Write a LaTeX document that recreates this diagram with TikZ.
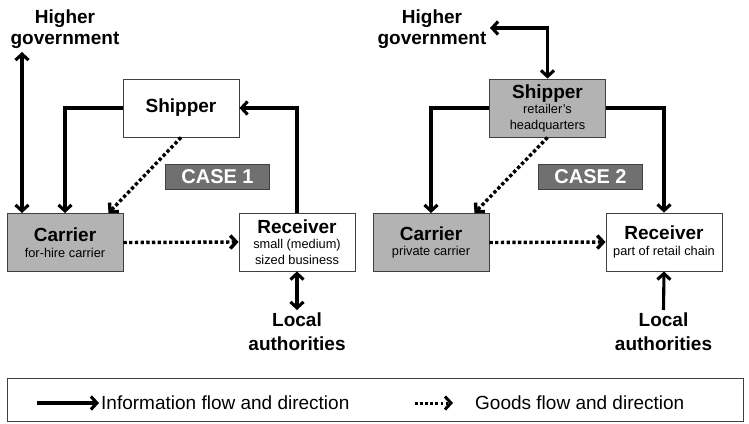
\documentclass[tikz,border=0pt]{standalone}
\usepackage{fontspec}
\setmainfont{Liberation Sans}
\usetikzlibrary{arrows.meta,calc}
\definecolor{boxgray}{HTML}{B3B3B3}
\definecolor{casegray}{HTML}{707070}
\definecolor{edgegray}{HTML}{404040}
\newcommand\lab[1]{{\fontsize{19}{15.5}\selectfont\bfseries #1}}
\begin{document}
\begin{tikzpicture}[x=1pt,y=-1pt,
  >={Straight Barb[length=6pt,width=13pt]},
  box/.style={draw=edgegray,line width=0.9pt,minimum width=116pt,minimum height=58pt,inner sep=0pt,align=center,font=\fontsize{12.8}{15.5}\selectfont},
  casebox/.style={draw=edgegray,line width=0.9pt,fill=casegray,text=white,minimum width=104pt,minimum height=25pt,inner sep=0pt,font=\fontsize{20}{20}\selectfont\bfseries},
  ext/.style={align=center,inner sep=0pt,font=\fontsize{19}{21}\selectfont\bfseries},
  extl/.style={align=center,inner sep=2.5pt,font=\fontsize{19}{24}\selectfont\bfseries},
  legtext/.style={inner sep=2pt,font=\fontsize{19}{21}\selectfont},
  info/.style={line width=3.1pt},
  goods/.style={line width=3.4pt,dash pattern=on 3.3pt off 2.4pt},
  goodsleg/.style={line width=3pt,dash pattern=on 2.8pt off 2.3pt}
]
\useasboundingbox (0,0) rectangle (749,423);

% ---------- CASE 1 ----------
\node[box,fill=white] (s1) at (181,108) {\lab{Shipper}};
\node[box,fill=boxgray] (c1) at (65,242.5) {\lab{Carrier}\\for-hire carrier};
\node[box,fill=white] (r1) at (297,242) {\lab{Receiver}\\small (medium)\\sized business};
\node[casebox] (k1) at (217.5,176.5) {CASE 1};
\node[ext,anchor=north] (h1) at (65,10) {Higher\\government};
\node[extl,anchor=north] (l1) at (297,310) {Local\\authorities};
\coordinate (h1a) at (22,52);
\draw[info,<->] (h1a) -- (h1a |- c1.north);
\draw[info,->] (s1.west) -| (c1.north);
\draw[info,->] (r1.north) |- (s1.east);
\draw[goods,->] (s1.south) -- ($(c1.north east)+(-15,0)$);
\draw[goods,->] (c1.east) -- (r1.west);
\draw[info,<->] (r1.south) -- (l1.north);

% ---------- CASE 2 ----------
\node[box,fill=boxgray] (s2) at (547.5,108) {\lab{Shipper}\\retailer's\\headquarters};
\node[box,fill=boxgray] (c2) at (431,242.5) {\lab{Carrier}\\private carrier};
\node[box,fill=white] (r2) at (664,242) {\lab{Receiver}\\part of retail chain};
\node[casebox] (k2) at (590.5,176.5) {CASE 2};
\node[ext,anchor=north] (h2) at (432,10) {Higher\\government};
\node[extl,anchor=north] (l2) at (663.5,310) {Local\\authorities};
\coordinate (h2a) at (490,28);
\draw[info,<->] (h2a) -| (s2.north);
\draw[info,->] (s2.west) -| (c2.north);
\draw[info,->] (s2.east) -| (r2.north);
\draw[goods,->] (s2.south) -- ($(c2.north east)+(-15,0)$);
\draw[goods,->] (c2.east) -- (r2.west);
\draw[info,->] (l2.north) -- (r2.south);

% ---------- Legend ----------
\node[draw=edgegray,line width=0.9pt,fill=white,minimum width=736pt,minimum height=43pt,inner sep=0pt] (leg) at (375,399.5) {};
\coordinate (la) at (37,403);
\node[legtext,anchor=west] (lt1) at (99,403) {Information flow and direction};
\draw[info,->] (la) -- (lt1.west);
\coordinate (lb) at (415,403);
\coordinate (lbe) at (453,403);
\node[legtext,anchor=west] (lt2) at (473,403) {Goods flow and direction};
\draw[goodsleg,->] (lb) -- (lbe);
\end{tikzpicture}
\end{document}
